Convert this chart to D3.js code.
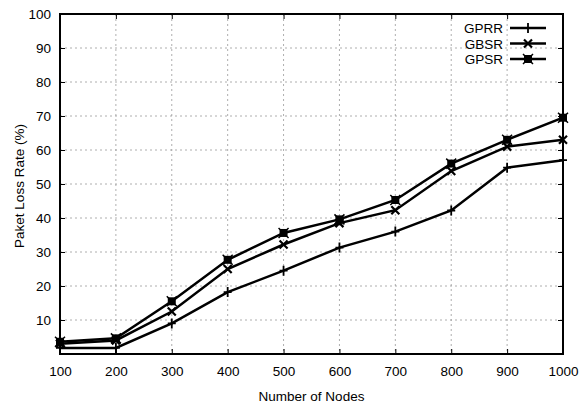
<!DOCTYPE html>
<html>
<head>
<meta charset="utf-8">
<script src="https://cdn.jsdelivr.net/npm/d3@7"></script>
<style>
  body { margin: 0; background: #fff; }
  svg { font-family: "Liberation Sans", Arial, sans-serif; }
</style>
</head>
<body>
<div id="chart"></div>
<script>
// valores
const nodes = [100, 200, 300, 400, 500, 600, 700, 800, 900, 1000];
const gprr = [1.8, 1.8, 9, 18.2, 24.5, 31.3, 36, 42.2, 54.8, 57];
const gbsr = [3, 4, 12.5, 25, 32.2, 38.5, 42.3, 53.8, 61, 63];
const gpsr = [3.6, 4.6, 15.5, 27.7, 35.6, 39.6, 45.3, 56, 63, 69.5];
const yTicks = [10, 20, 30, 40, 50, 60, 70, 80, 90, 100];
const seriesNames = ["GPRR", "GBSR", "GPSR"];

const config = { width: 503, height: 340, left: 60, top: 14, right: 18, bottom: 54 };

const svg = d3.select("#chart").append("svg")
    .attr("width", 581)
    .attr("height", 408);

const g = svg.append("g")
    .attr("transform", `translate(${config.left},${config.top})`);

const xScale = d3.scaleLinear().domain([100, 1000]).range([0, config.width]);
const yScale = d3.scaleLinear().domain([0, 100]).range([config.height, 0]);

// grade pontilhada
g.append("g").selectAll("line")
    .data(yTicks.slice(0, -1))
    .join("line")
    .attr("x1", 0).attr("x2", config.width)
    .attr("y1", d => yScale(d)).attr("y2", d => yScale(d))
    .attr("stroke", "#999").attr("stroke-width", 0.8)
    .attr("stroke-dasharray", "2,3");

g.append("g").selectAll("line")
    .data(nodes.slice(1, -1))
    .join("line")
    .attr("x1", d => xScale(d)).attr("x2", d => xScale(d))
    .attr("y1", 0).attr("y2", config.height)
    .attr("stroke", "#999").attr("stroke-width", 0.8)
    .attr("stroke-dasharray", "2,3");

// eixos
const xAxis = d3.axisBottom(xScale).tickValues(nodes).tickSize(-5).tickPadding(12).tickFormat(d3.format("d"));
const yAxis = d3.axisLeft(yScale).tickValues(yTicks).tickSize(-5).tickPadding(9);

g.append("g")
    .attr("transform", `translate(0,${config.height})`)
    .call(xAxis)
    .call(a => a.select(".domain").remove())
    .call(a => a.selectAll("text").attr("font-size", 13.5).attr("fill", "#000").attr("font-family", "Liberation Sans, Arial"));

g.append("g")
    .call(yAxis)
    .call(a => a.select(".domain").remove())
    .call(a => a.selectAll("text").attr("font-size", 13.5).attr("fill", "#000").attr("font-family", "Liberation Sans, Arial"));

// marcas no topo e na direita
g.append("g").call(d3.axisTop(xScale).tickValues(nodes).tickSize(-5).tickFormat(""))
    .call(a => a.select(".domain").remove());
g.append("g").attr("transform", `translate(${config.width},0)`)
    .call(d3.axisRight(yScale).tickValues(yTicks).tickSize(-5).tickFormat(""))
    .call(a => a.select(".domain").remove());

// moldura
g.append("rect")
    .attr("width", config.width).attr("height", config.height)
    .attr("fill", "none").attr("stroke", "#000").attr("stroke-width", 2);

// rótulos
svg.append("text")
    .attr("x", config.left + config.width / 2)
    .attr("y", 401)
    .attr("text-anchor", "middle")
    .attr("font-size", 13.5)
    .text("Number of Nodes");

svg.append("text")
    .attr("transform", `translate(24,${config.top + config.height / 2 + 2}) rotate(-90)`)
    .attr("text-anchor", "middle")
    .attr("font-size", 13.5)
    .text("Paket Loss Rate (%)");

// séries
const series = [gprr, gbsr, gpsr];
const line = d3.line().x((d, i) => xScale(nodes[i])).y(d => yScale(d));

function drawMarker(sel, k) {
    if (k === 0) {
        sel.append("path").attr("d", "M-4,0H4M0,-5V5")
            .attr("stroke", "#000").attr("stroke-width", 1.8);
    } else if (k === 1) {
        sel.append("path").attr("d", "M-4,-4L4,4M-4,4L4,-4")
            .attr("stroke", "#000").attr("stroke-width", 2.2);
    } else {
        sel.append("rect").attr("x", -4).attr("y", -4).attr("width", 8).attr("height", 8)
            .attr("fill", "#000");
        sel.append("path").attr("d", "M-5,-5L5,5M-5,5L5,-5")
            .attr("stroke", "#000").attr("stroke-width", 1.5);
    }
}

series.forEach((s, k) => {
    g.append("path")
        .datum(s)
        .attr("d", line)
        .attr("fill", "none")
        .attr("stroke", "#000")
        .attr("stroke-width", 2.5);

    g.append("g").selectAll("g")
        .data(s)
        .join("g")
        .attr("transform", (d, i) => `translate(${xScale(nodes[i])},${yScale(d)})`)
        .each(function () { drawMarker(d3.select(this), k); });
});

// legenda
const legend = svg.append("g");
seriesNames.forEach((name, k) => {
    const y = 28 + k * 15.5;
    legend.append("text")
        .attr("x", 503).attr("y", y + 5)
        .attr("text-anchor", "end")
        .attr("font-size", 13.5)
        .text(name);
    legend.append("line")
        .attr("x1", 510).attr("x2", 546)
        .attr("y1", y).attr("y2", y)
        .attr("stroke", "#000").attr("stroke-width", 2.5);
    drawMarker(legend.append("g").attr("transform", `translate(528,${y})`), k);
});
</script>
</body>
</html>
